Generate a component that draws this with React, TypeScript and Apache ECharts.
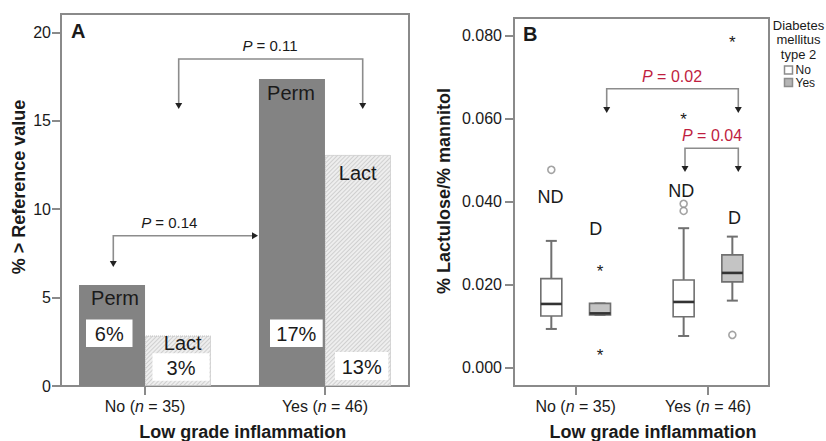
import React, { useEffect, useRef } from 'react';
import * as echarts from 'echarts';

const FONT = "'Liberation Sans', Arial, Helvetica, sans-serif";
const INK = '#1a1a1a';
const FRAME = '#8a8a8a';
const RED = '#bf1e3f';

// ---------- Panel A data ----------
const groups = ['No', 'Yes'];
const groupN = [35, 46];
const permValues = [5.71, 17.36];
const lactValues = [2.85, 13.07];
const aYTicks = [0, 5, 10, 15, 20];

// ---------- Panel B data ----------
const bYTicks = [0, 0.02, 0.04, 0.06, 0.08];
// [min, Q1, median, Q3, max] per inflammation group
const ndBoxes = [
  [0.00934, 0.01247, 0.01537, 0.02148, 0.03057],
  [0.00765, 0.0123, 0.01585, 0.02116, 0.03363],
];
const dBoxes = [
  [0.0127, 0.0127, 0.0131, 0.0155, 0.0155],
  [0.01617, 0.02068, 0.02285, 0.0272, 0.0316],
];
const ndCircleOutliers = [[0.0477], [0.0395, 0.0378]];
const dCircleOutliers = [[], [0.0079]];
const ndStarOutliers = [[], [0.0607]];
const dStarOutliers = [[0.0241, 0.0037], [0.0793]];

const GROUP_OFFSET = 0.184;

const txt = (x: number, y: number, text: string, o: any = {}) => ({
  type: 'text',
  x,
  y,
  rotation: o.rotation || 0,
  z: 100,
  style: {
    text,
    fontFamily: FONT,
    fontSize: o.size || 15,
    fontWeight: o.weight || 'normal',
    fill: o.color || INK,
    align: o.align || 'center',
    verticalAlign: 'middle',
    rich: o.rich,
  },
});

const pText = (x: number, y: number, value: string, color: string, size: number) =>
  txt(x, y, `{i|P}{r| = ${value}}`, {
    size,
    color,
    rich: {
      i: { fontFamily: FONT, fontSize: size, fontStyle: 'italic', fill: color },
      r: { fontFamily: FONT, fontSize: size, fill: color },
    },
  });

const bracket = (pts: number[][]) => ({
  type: 'polyline',
  z: 90,
  shape: { points: pts },
  style: { stroke: '#8c8c8c', lineWidth: 1.6, fill: null },
});
const arrowDown = (x: number, tip: number) => ({
  type: 'polygon',
  z: 95,
  shape: { points: [[x - 3.5, tip - 6], [x + 3.5, tip - 6], [x, tip]] },
  style: { fill: '#222' },
});
const arrowRight = (tip: number, y: number) => ({
  type: 'polygon',
  z: 95,
  shape: { points: [[tip - 6, y - 3.5], [tip - 6, y + 3.5], [tip, y]] },
  style: { fill: '#222' },
});
const pctBox = (x: number, y: number, w: number, h: number, value: number) => [
  { type: 'rect', z: 98, shape: { x, y, width: w, height: h }, style: { fill: '#fff' } },
  txt(x + w / 2, y + h / 2 + 1, `${Math.round(value)}%`, { size: 20 }),
];

const xLabel = (size: number) => ({
  customValues: [0, 1],
  margin: 12,
  formatter: (v: number) => {
    const i = Math.round(v);
    return `{a|${groups[i]} (}{i|n}{a| = ${groupN[i]})}`;
  },
  rich: {
    a: { fontFamily: FONT, fontSize: size, color: INK },
    i: { fontFamily: FONT, fontSize: size, color: INK, fontStyle: 'italic' },
  },
});

const tickStyle = { length: 9, lineStyle: { color: FRAME, width: 2 } };
const hiddenLine = { show: false, onZero: false };

const boxRender = (fill: string) => (params: any, api: any) => {
  const x = api.value(0);
  const lo = api.coord([x, api.value(1)]);
  const q1 = api.coord([x, api.value(2)]);
  const md = api.coord([x, api.value(3)]);
  const q3 = api.coord([x, api.value(4)]);
  const hi = api.coord([x, api.value(5)]);
  const cx = lo[0];
  const hw = 10.5;
  const cw = 5.5;
  const ln = '#707070';
  const s = { stroke: ln, lineWidth: 2 };
  return {
    type: 'group',
    children: [
      { type: 'line', shape: { x1: cx, y1: hi[1], x2: cx, y2: q3[1] }, style: s },
      { type: 'line', shape: { x1: cx, y1: q1[1], x2: cx, y2: lo[1] }, style: s },
      { type: 'line', shape: { x1: cx - cw, y1: hi[1], x2: cx + cw, y2: hi[1] }, style: s },
      { type: 'line', shape: { x1: cx - cw, y1: lo[1], x2: cx + cw, y2: lo[1] }, style: s },
      {
        type: 'rect',
        shape: { x: cx - hw, y: q3[1], width: 2 * hw, height: Math.max(q1[1] - q3[1], 1) },
        style: { fill, stroke: ln, lineWidth: 1.6 },
      },
      { type: 'line', shape: { x1: cx - hw, y1: md[1], x2: cx + hw, y2: md[1] }, style: { stroke: '#333', lineWidth: 2.6 } },
    ],
  };
};

const starRender = (params: any, api: any) => {
  const p = api.coord([api.value(0), api.value(1)]);
  return {
    type: 'text',
    x: p[0],
    y: p[1] + 3.5,
    style: { text: '*', fontFamily: FONT, fontSize: 17, fill: INK, align: 'center', verticalAlign: 'middle' },
  };
};

const flatPoints = (lists: number[][], off: number) =>
  lists.flatMap((vals, i) => vals.map((v) => [i + off, v]));

export default function App() {
  const ref = useRef<HTMLDivElement>(null);
  useEffect(() => {
    if (!ref.current) return;
    const chart = echarts.init(ref.current, null, { renderer: 'svg' });
    const option: any = {
      animation: false,
      backgroundColor: '#fff',
      textStyle: { fontFamily: FONT },
      grid: [
        { left: 61, top: 14, width: 348, height: 372, show: true, borderColor: FRAME, borderWidth: 2, backgroundColor: 'transparent', outerBoundsMode: 'none' },
        { left: 514, top: 18, width: 255, height: 368, show: true, borderColor: FRAME, borderWidth: 2, backgroundColor: 'transparent', outerBoundsMode: 'none' },
      ],
      xAxis: [
        {
          type: 'value', gridIndex: 0, min: -0.467, max: 1.467, position: 'bottom',
          axisLine: hiddenLine, splitLine: { show: false },
          axisTick: { ...tickStyle, customValues: [0, 1] },
          axisLabel: xLabel(16),
        },
        {
          type: 'value', gridIndex: 1, min: -0.466, max: 1.461, position: 'bottom',
          axisLine: hiddenLine, splitLine: { show: false },
          axisTick: { ...tickStyle, customValues: [0, 1] },
          axisLabel: xLabel(16),
        },
      ],
      yAxis: [
        {
          type: 'value', gridIndex: 0, min: 0, max: 21.04, position: 'left',
          axisLine: hiddenLine, splitLine: { show: false },
          axisTick: { ...tickStyle, customValues: aYTicks },
          axisLabel: { customValues: aYTicks, margin: 10, fontSize: 16, color: INK, fontFamily: FONT },
        },
        {
          type: 'value', gridIndex: 1, min: -0.00441, max: 0.0843, position: 'left',
          axisLine: hiddenLine, splitLine: { show: false },
          axisTick: { ...tickStyle, customValues: bYTicks },
          axisLabel: {
            customValues: bYTicks, margin: 12, fontSize: 16, color: INK, fontFamily: FONT,
            formatter: (v: number) => v.toFixed(3),
          },
        },
      ],
      series: [
        {
          type: 'bar', name: 'Perm', xAxisIndex: 0, yAxisIndex: 0,
          barWidth: 66, barGap: '0%',
          data: permValues.map((v, i) => [i, v]),
          itemStyle: { color: '#838383' },
        },
        {
          type: 'bar', name: 'Lact', xAxisIndex: 0, yAxisIndex: 0,
          barWidth: 66, barGap: '0%',
          data: lactValues.map((v, i) => [i, v]),
          itemStyle: {
            color: '#eeeeee',
            borderColor: '#cccccc',
            borderWidth: 1,
            borderType: 'dotted',
            decal: {
              symbol: 'rect', symbolSize: 1, dashArrayX: [1, 0], dashArrayY: [1, 1.5],
              rotation: -Math.PI / 4, color: 'rgba(170,170,170,0.45)',
            },
          },
        },
        {
          type: 'custom', xAxisIndex: 1, yAxisIndex: 1,
          renderItem: boxRender('#ffffff'),
          data: ndBoxes.map((b, i) => [i - GROUP_OFFSET, ...b]),
        },
        {
          type: 'custom', xAxisIndex: 1, yAxisIndex: 1,
          renderItem: boxRender('#c4c4c4'),
          data: dBoxes.map((b, i) => [i + GROUP_OFFSET, ...b]),
        },
        {
          type: 'scatter', xAxisIndex: 1, yAxisIndex: 1, symbol: 'circle', symbolSize: 7,
          itemStyle: { color: '#fff', borderColor: '#8c8c8c', borderWidth: 1.6 },
          data: [...flatPoints(ndCircleOutliers, -GROUP_OFFSET), ...flatPoints(dCircleOutliers, GROUP_OFFSET)],
        },
        {
          type: 'custom', xAxisIndex: 1, yAxisIndex: 1,
          renderItem: starRender,
          data: [...flatPoints(ndStarOutliers, -GROUP_OFFSET), ...flatPoints(dStarOutliers, GROUP_OFFSET)],
        },
      ],
      graphic: [
        // Panel A
        txt(71, 31, 'A', { size: 20, weight: 'bold', align: 'left' }),
        txt(18.5, 187, '% > Reference value', { size: 18, weight: 'bold', rotation: Math.PI / 2 }),
        txt(242.7, 431.5, 'Low grade inflammation', { size: 18, weight: 'bold' }),
        pText(270, 45, '0.11', INK, 15),
        bracket([[178.7, 103], [178.7, 59], [362.7, 59], [362.7, 103]]),
        arrowDown(178.7, 109),
        arrowDown(362.7, 109),
        pText(169.3, 222.7, '0.14', INK, 15),
        bracket([[113.3, 261], [113.3, 235.7], [252, 235.7]]),
        arrowDown(113.3, 267),
        arrowRight(258, 235.7),
        txt(115, 298, 'Perm', { size: 20 }),
        txt(291, 93, 'Perm', { size: 20 }),
        txt(182.7, 343, 'Lact', { size: 20 }),
        txt(357.7, 173, 'Lact', { size: 20 }),
        ...pctBox(86, 319.5, 46.5, 27.5, permValues[0]),
        ...pctBox(152.5, 353.3, 57, 27.5, lactValues[0]),
        ...pctBox(270, 319.5, 52.7, 27.5, permValues[1]),
        ...pctBox(335, 352, 53.3, 28, lactValues[1]),
        // Panel B
        txt(523, 33.5, 'B', { size: 20, weight: 'bold', align: 'left' }),
        txt(444, 191, '% Lactulose/% mannitol', { size: 18, weight: 'bold', rotation: Math.PI / 2 }),
        txt(653, 431.5, 'Low grade inflammation', { size: 18, weight: 'bold' }),
        pText(672, 76.7, '0.02', RED, 16),
        bracket([[606.7, 107], [606.7, 88.7], [738.3, 88.7], [738.3, 107]]),
        arrowDown(606.7, 113),
        arrowDown(738.3, 113),
        pText(712, 135, '0.04', RED, 16),
        bracket([[685, 166], [685, 148.3], [738.3, 148.3], [738.3, 166]]),
        arrowDown(685, 172),
        arrowDown(738.3, 172),
        txt(550.5, 197, 'ND', { size: 18 }),
        txt(595.7, 229, 'D', { size: 18 }),
        txt(681.3, 191, 'ND', { size: 18 }),
        txt(734.5, 217.5, 'D', { size: 18 }),
        // Legend
        txt(798.5, 25, 'Diabetes', { size: 13 }),
        txt(798.5, 39.5, 'mellitus', { size: 13 }),
        txt(798.5, 54.3, 'type 2', { size: 13 }),
        { type: 'rect', z: 100, shape: { x: 784.5, y: 66, width: 8, height: 8 }, style: { fill: '#fff', stroke: '#8c8c8c', lineWidth: 1.5 } },
        { type: 'rect', z: 100, shape: { x: 784.5, y: 78.5, width: 8, height: 8 }, style: { fill: '#b5b5b5', stroke: '#8c8c8c', lineWidth: 1.5 } },
        txt(795.5, 69.5, 'No', { size: 12, align: 'left' }),
        txt(795.5, 82.5, 'Yes', { size: 12, align: 'left' }),
      ],
    };
    chart.setOption(option);
    return () => chart.dispose();
  }, []);
  return (
    <div
      ref={ref}
      style={{ position: 'absolute', left: 0, top: 0, width: 826, height: 441, background: '#fff' }}
    />
  );
}
